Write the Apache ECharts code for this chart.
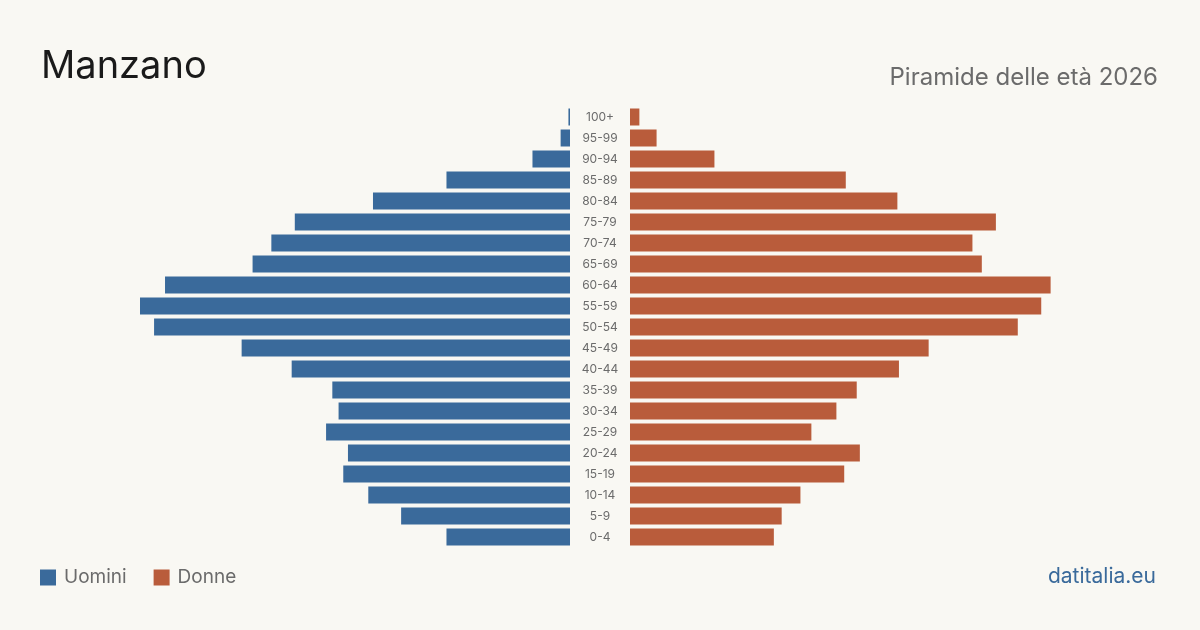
<!DOCTYPE html>
<html>
<head>
<meta charset="utf-8">
<script src="https://cdn.jsdelivr.net/npm/echarts@6/dist/echarts.min.js"></script>
<style>
html,body{margin:0;padding:0;background:#f9f8f3;}
#c{width:1200px;height:630px;}
</style>
</head>
<body>
<div id="c"></div>
<script>
const ageGroups = ['0-4','5-9','10-14','15-19','20-24','25-29','30-34','35-39','40-44','45-49','50-54','55-59','60-64','65-69','70-74','75-79','80-84','85-89','90-94','95-99','100+'];
const men   = [79,108,129,145,142,156,148,152,178,210,266,275,259,203,191,176,126,79,24,6,1];
const women = [92,97,109,137,147,116,132,145,172,191,248,263,269,225,219,234,171,138,54,17,6];
const axisMax = 275;

const blue = '#3a6a9b';
const red = '#b95c3b';
const font = 'Inter, "Noto Sans", sans-serif';

const chart = echarts.init(document.getElementById('c'), null, {renderer:'canvas'});
chart.setOption({
  backgroundColor: '#f9f8f3',
  animation: false,
  title: [
    {text:'Manzano', left:36, top:43, textStyle:{fontFamily:font, fontSize:38, fontWeight:'normal', color:'#1a1a1a'}},
    {text:'Piramide delle età 2026', right:37, top:61, textStyle:{fontFamily:font, fontSize:24, fontWeight:'normal', color:'#6b6b6b'}},
    {text:'datitalia.eu', right:39, top:561, textStyle:{fontFamily:font, fontSize:21, fontWeight:'normal', color:blue}}
  ],
  legend: {
    left: 35, top: 563, itemWidth: 16, itemHeight: 16, itemGap: 27,
    icon: 'rect',
    textStyle: {fontFamily: font, fontSize: 19, color: '#6b6b6b', padding:[0,0,0,3]},
    data: ['Uomini','Donne']
  },
  grid: [
    {left:140, width:430, top:106.5, height:441},
    {left:630, width:430, top:106.5, height:441}
  ],
  xAxis: [
    {gridIndex:0, type:'value', inverse:true, min:0, max:axisMax, show:false},
    {gridIndex:1, type:'value', min:0, max:axisMax, show:false}
  ],
  yAxis: [
    {gridIndex:0, type:'category', data:ageGroups, show:false},
    {gridIndex:1, type:'category', data:ageGroups,
     axisLine:{show:false}, axisTick:{show:false}, splitLine:{show:false},
     axisLabel:{show:true, margin:30, align:'center', fontFamily:font, fontSize:12, color:'#6b6b6b'}}
  ],
  series: [
    {name:'Uomini', type:'bar', xAxisIndex:0, yAxisIndex:0, data:men, barWidth:17, itemStyle:{color:blue}},
    {name:'Donne', type:'bar', xAxisIndex:1, yAxisIndex:1, data:women, barWidth:17, itemStyle:{color:red}}
  ]
});
</script>
</body>
</html>
